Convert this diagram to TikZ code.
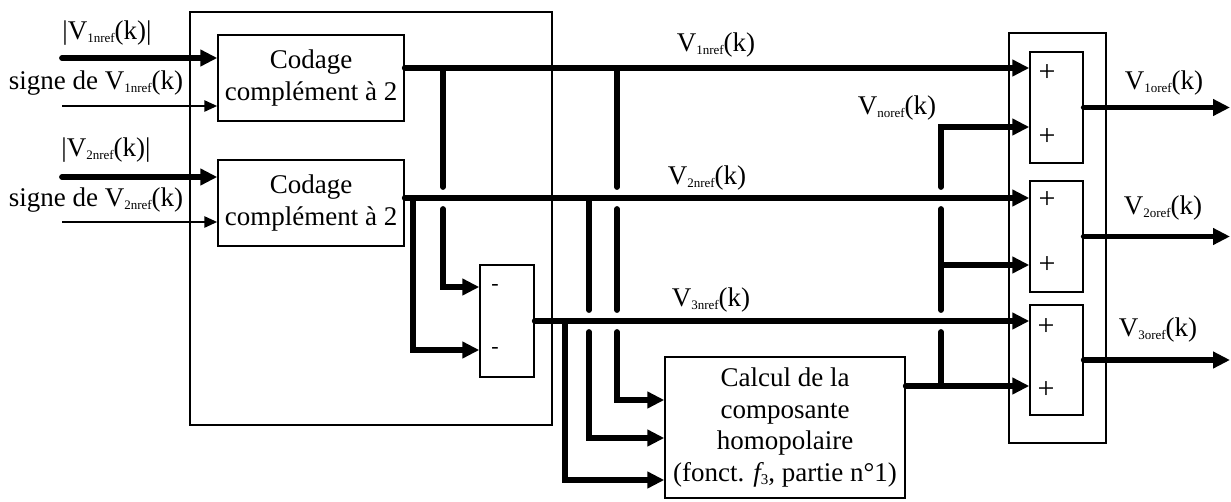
\documentclass[tikz,border=0pt]{standalone}
\usepackage{fontspec}
\setmainfont{Liberation Serif}
\usetikzlibrary{calc,arrows.meta}
\newcommand{\boxfont}{\fontsize{27}{31.5}\selectfont}
\newcommand{\sigfont}{\fontsize{27}{30}\selectfont}
\newcommand{\Vname}[1]{V\raisebox{-3pt}{\fontsize{13}{13}\selectfont #1}(k)}
\newcommand{\hop}{11}
\tikzset{
    frame line/.style={line width=1.3pt, black},
    block/.style={
        draw,
        line width=1.4pt,
        inner sep=0pt,
        align=center,
        font=\boxfont
    },
    signal line/.style={line width=5.8pt, line cap=round},
    signal arrow/.style={signal line, -{Triangle[length=17pt,width=16pt]}},
    sign arrow/.style={line width=2.6pt, -{Triangle[length=13pt,width=11pt]}},
    sig text/.style={font=\sigfont, inner sep=0pt},
    op text/.style={font=\fontsize{30}{30}\selectfont, inner sep=0pt},
    minus text/.style={font=\fontsize{22}{22}\selectfont, inner sep=0pt}
}

\begin{document}
\begin{tikzpicture}[x=1pt,y=-1pt]
    \useasboundingbox(0,0)rectangle(1231,501);

    % frames
    \draw[frame line](190,12)rectangle(552,425);
    \draw[frame line](1009,33)rectangle(1106,443);

    % blocks
    \node[block,minimum width=186,minimum height=86](Cod1)at(311,78){Codage\\complément à 2};
    \node[block,minimum width=186,minimum height=86](Cod2)at(311,203){Codage\\complément à 2};
    \node[block,minimum width=54,minimum height=112](Msub)at(507,321){};
    \node[block,minimum width=240,minimum height=141](Calc)at(785,427.5){Calcul de la\\composante\\homopolaire\\(fonct. {\itshape f}\raisebox{-3pt}{\fontsize{15}{15}\selectfont 3}, partie n°1)};
    \node[block,minimum width=53,minimum height=111](Add1)at(1056.5,107.5){};
    \node[block,minimum width=53,minimum height=111](Add2)at(1056.5,236.5){};
    \node[block,minimum width=53,minimum height=110](Add3)at(1056.5,360){};

    \node[minus text](m1)at(495,287){-};
    \node[minus text](m2)at(495,350){-};
    \node[op text](p1a)at(1047,73){+};
    \node[op text](p1b)at(1047,137){+};
    \node[op text](p2a)at(1047,200){+};
    \node[op text](p2b)at(1047,265){+};
    \node[op text](p3a)at(1046,327){+};
    \node[op text](p3b)at(1046,390){+};

    % levels and abscissae
    \coordinate(li1)at(0,58);
    \coordinate(li2)at(0,106);
    \coordinate(li3)at(0,177);
    \coordinate(li4)at(0,222);
    \coordinate(lv1)at(0,68);
    \coordinate(lv2)at(0,198);
    \coordinate(lv3)at(0,321);
    \coordinate(lm1)at(0,287);
    \coordinate(lm2)at(0,350);
    \coordinate(lc1)at(0,400);
    \coordinate(lc2)at(0,438);
    \coordinate(lc3)at(0,480);
    \coordinate(ln1)at(0,127);
    \coordinate(ln2)at(0,265);
    \coordinate(lh)at(0,386);
    \coordinate(xi)at(62,0);
    \coordinate(xa)at(443,0);
    \coordinate(xb)at(413,0);
    \coordinate(xc)at(617,0);
    \coordinate(xd)at(589,0);
    \coordinate(xe)at(565,0);
    \coordinate(xh)at(941,0);
    \coordinate(xo)at(1230,0);

    % inputs
    \draw[signal arrow](xi|-li1)--(Cod1.west|-li1);
    \draw[sign arrow](xi|-li2)--(Cod1.west|-li2);
    \draw[signal arrow](xi|-li3)--(Cod2.west|-li3);
    \draw[sign arrow](xi|-li4)--(Cod2.west|-li4);

    % main signals
    \draw[signal arrow](Cod1.east|-lv1)--(Add1.west|-lv1);
    \draw[signal arrow](Cod2.east|-lv2)--(Add2.west|-lv2);
    \draw[signal arrow](Msub.east)--(Add3.west|-lv3);

    % branches
    \draw[signal line](xa|-lv1)--($(xa|-lv2)+(0,-\hop)$);
    \draw[signal arrow]($(xa|-lv2)+(0,\hop)$)|-(Msub.west|-lm1);
    \draw[signal arrow](xb|-lv2)|-(Msub.west|-lm2);
    \draw[signal line](xc|-lv1)--($(xc|-lv2)+(0,-\hop)$);
    \draw[signal line]($(xc|-lv2)+(0,\hop)$)--($(xc|-lv3)+(0,-\hop)$);
    \draw[signal arrow]($(xc|-lv3)+(0,\hop)$)|-(Calc.west|-lc1);
    \draw[signal line](xd|-lv2)--($(xd|-lv3)+(0,-\hop)$);
    \draw[signal arrow]($(xd|-lv3)+(0,\hop)$)|-(Calc.west|-lc2);
    \draw[signal arrow](xe|-lv3)|-(Calc.west|-lc3);

    % homopolar component
    \draw[signal arrow](Calc.east|-lh)--(Add3.west|-lh);
    \draw[signal line](xh|-lh)--($(xh|-lv3)+(0,\hop)$);
    \draw[signal line]($(xh|-lv3)+(0,-\hop)$)--($(xh|-lv2)+(0,\hop)$);
    \draw[signal arrow](xh|-ln2)--(Add2.west|-ln2);
    \draw[signal arrow]($(xh|-lv2)+(0,-\hop)$)|-(Add1.west|-ln1);

    % outputs
    \draw[signal arrow](Add1.east)--(xo|-Add1.east);
    \draw[signal arrow](Add2.east)--(xo|-Add2.east);
    \draw[signal arrow](Add3.east)--(xo|-Add3.east);

    % labels
    \node[sig text](tIn1)at(107,33){|\Vname{1nref}|};
    \node[sig text](tSg1)at(96,83){signe de \Vname{1nref}};
    \node[sig text](tIn2)at(106,150){|\Vname{2nref}|};
    \node[sig text](tSg2)at(96,200){signe de \Vname{2nref}};
    \node[sig text](tV1)at(716,45){\Vname{1nref}};
    \node[sig text](tV2)at(707,178){\Vname{2nref}};
    \node[sig text](tV3)at(711,300){\Vname{3nref}};
    \node[sig text](tVn)at(897,108){\Vname{noref}};
    \node[sig text](tO1)at(1164,83){\Vname{1oref}};
    \node[sig text](tO2)at(1163,208){\Vname{2oref}};
    \node[sig text](tO3)at(1158,330){\Vname{3oref}};
\end{tikzpicture}
\end{document}
